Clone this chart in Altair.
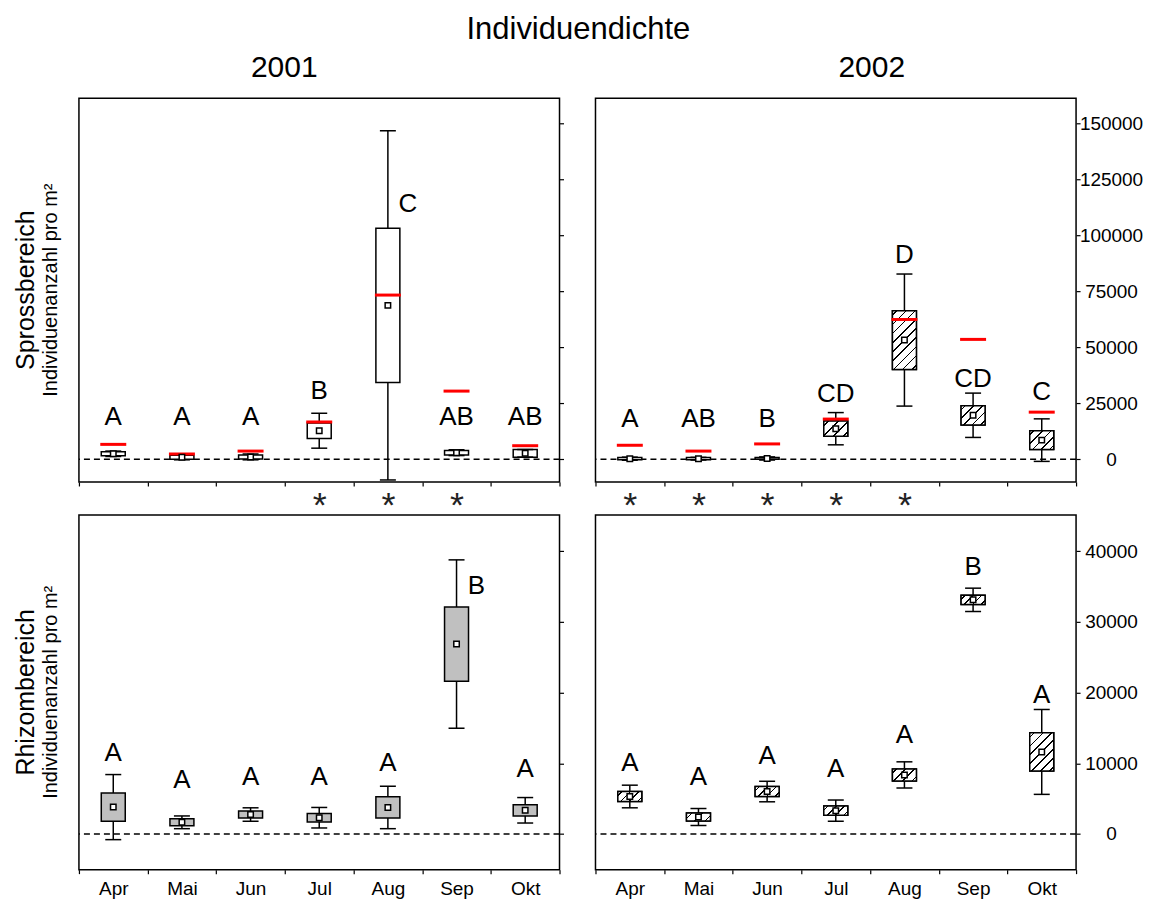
import json
import math
import altair as alt
import pandas as pd

# ---------------- data ----------------
months = ["Apr", "Mai", "Jun", "Jul", "Aug", "Sep", "Okt"]

# Sprossbereich 2001
s01_mean = [2500, 900, 1100, 12800, 68800, 3000, 2700]
s01_se = [900, 900, 900, 3450, 34500, 1000, 1700]
s01_sd = [1200, 1100, 1300, 7800, 78000, 1300, 1700]
s01_red = [6700, 2400, 3700, 16700, 73400, 30500, 6100]
s01_letters = ["A", "A", "A", "B", "C", "AB", "AB"]
s01_letter_y = [19000, 19000, 19000, 30400, 114300, 19000, 19000]
s01_letter_side = [0, 0, 0, 0, 1, 0, 0]
s01_stars = ["Jul", "Aug", "Sep"]

# Sprossbereich 2002
s02_mean = [300, 300, 400, 13700, 53300, 19700, 8600]
s02_se = [500, 500, 400, 3400, 13100, 4300, 4200]
s02_sd = [700, 600, 700, 7200, 29500, 9900, 9500]
s02_red = [6300, 3700, 6900, 18000, 62500, 53600, 21100]
s02_letters = ["A", "AB", "B", "CD", "D", "CD", "C"]
s02_letter_y = [18000, 18000, 18000, 29000, 91200, 36100, 30200]
s02_letter_side = [0, 0, 0, 0, 0, 0, 0]
s02_stars = ["Apr", "Mai", "Jun", "Jul", "Aug"]

# Rhizombereich 2001
r01_mean = [3800, 1650, 2750, 2300, 3750, 26850, 3350]
r01_se = [2000, 500, 500, 600, 1500, 5250, 800]
r01_sd = [4600, 900, 950, 1450, 3000, 11900, 1800]
r01_letters = ["A", "A", "A", "A", "A", "B", "A"]
r01_letter_y = [11500, 7600, 8100, 8100, 10000, 35100, 9200]
r01_letter_side = [0, 0, 0, 0, 0, 1, 0]

# Rhizombereich 2002
r02_mean = [5300, 2400, 6000, 3300, 8350, 33100, 11600]
r02_se = [700, 550, 700, 650, 850, 650, 2700]
r02_sd = [1600, 1200, 1450, 1500, 1850, 1650, 6000]
r02_letters = ["A", "A", "A", "A", "A", "B", "A"]
r02_letter_y = [10000, 8100, 11000, 9150, 14000, 37700, 19700]
r02_letter_side = [0, 0, 0, 0, 0, 0, 0]

top_ticks = [0, 25000, 50000, 75000, 100000, 125000, 150000]
bot_ticks = [0, 10000, 20000, 30000, 40000]
top_domain = [-10100, 161300]
bot_domain = [-5040, 45100]

# ---------------- styling ----------------
FONT = "Liberation Sans"
W = 481
H_TOP = 384
H_BOT = 355
BOX_W = 24
CAP_W = 16


def hatch_gradient(h, w=BOX_W, spacing=6.5, lw=1.2):
    r = h / w
    a = (1 + r) / (1 + r * r)
    b = a * r
    L = (w + h) / math.sqrt(2)
    n = max(1, int(round(L / spacing)))
    d = (lw / 2) / L
    stops = [alt.GradientStop(offset=0, color="white")]
    for k in range(n):
        t = (k + 0.5) / n
        stops += [
            alt.GradientStop(offset=max(0, t - d), color="white"),
            alt.GradientStop(offset=max(0, t - d), color="black"),
            alt.GradientStop(offset=min(1, t + d), color="black"),
            alt.GradientStop(offset=min(1, t + d), color="white"),
        ]
    stops.append(alt.GradientStop(offset=1, color="white"))
    return alt.LinearGradient(gradient="linear", stops=stops, x1=0, y1=0, x2=a, y2=b)


def panel(mean, se, sd, letters, letter_y, letter_side, red, fill, hatched,
          domain, ticks, height, y_labels, bottom_row, stars, title, title_dx, row_label):
    df = pd.DataFrame({
        "month": months,
        "mean": mean,
        "se_lo": [m - s for m, s in zip(mean, se)],
        "se_hi": [m + s for m, s in zip(mean, se)],
        "sd_lo": [m - s for m, s in zip(mean, sd)],
        "sd_hi": [m + s for m, s in zip(mean, sd)],
        "letter": letters,
        "letter_y": letter_y,
        "side": letter_side,
    })
    if red is not None:
        df["red"] = red
    base = alt.Chart(df)

    yscale = alt.Scale(domain=domain, nice=False, zero=False)
    yaxis = alt.Axis(orient="right", values=ticks, title=None, grid=False,
                     domain=False, ticks=True, tickSize=4, tickWidth=1.2,
                     tickColor="black", labels=y_labels, labelAlign="center",
                     labelPadding=31, labelFontSize=19, labelColor="black",
                     format="d")

    def Y(f):
        return alt.Y(f"{f}:Q", scale=yscale, axis=yaxis)

    if bottom_row:
        xaxis = alt.Axis(title=None, tickBand="extent", tickSize=4,
                         tickColor="black", tickWidth=1.2, domain=False,
                         labelAngle=0, labelFontSize=19, labelPadding=6,
                         labelColor="black")
    else:
        expr = "indexof(" + json.dumps(stars) + ", datum.value) >= 0 ? '*' : ''"
        xaxis = alt.Axis(title=None, tickBand="extent", tickSize=4,
                         tickColor="black", tickWidth=1.2, domain=False,
                         labelAngle=0, labelExpr=expr, labelFontSize=36,
                         labelPadding=3, labelColor="#222222")
    X = alt.X("month:N", scale=alt.Scale(domain=months, paddingInner=0, paddingOuter=0),
              axis=xaxis)

    layers = []
    zero = alt.Chart(pd.DataFrame({"z": [0]})).mark_rule(
        color="black", strokeDash=[6, 4], strokeWidth=1.5).encode(y=Y("z"))
    layers.append(zero)
    layers.append(base.mark_rule(color="black", strokeWidth=1.5).encode(
        x=X, y=Y("sd_lo"), y2="sd_hi:Q"))
    layers.append(base.mark_bar(width=BOX_W, fill=fill, stroke="black", strokeWidth=1.5,
                                opacity=1).encode(x=X, y=Y("se_lo"), y2="se_hi:Q"))
    if hatched:
        px = height / (domain[1] - domain[0])
        for i, mth in enumerate(months):
            h = 2 * se[i] * px
            if h >= 4:
                layers.append(
                    base.transform_filter(alt.datum.month == mth)
                    .mark_bar(width=BOX_W, fill=hatch_gradient(h), stroke="black",
                              strokeWidth=1.5, opacity=1)
                    .encode(x=X, y=Y("se_lo"), y2="se_hi:Q"))
    layers.append(base.mark_tick(size=CAP_W, thickness=1.5, color="black", opacity=1)
                  .encode(x=X, y=Y("sd_lo")))
    layers.append(base.mark_tick(size=CAP_W, thickness=1.5, color="black", opacity=1)
                  .encode(x=X, y=Y("sd_hi")))
    if red is not None:
        layers.append(base.mark_tick(size=26, thickness=3, color="#ff0000", opacity=1)
                      .encode(x=X, y=Y("red")))
    layers.append(base.mark_square(size=30, fill="white", stroke="black", strokeWidth=1.5,
                                   opacity=1).encode(x=X, y=Y("mean")))
    layers.append(base.transform_filter("datum.side == 0")
                  .mark_text(fontSize=26, baseline="middle", align="center", color="black")
                  .encode(x=X, y=Y("letter_y"), text="letter:N"))
    layers.append(base.transform_filter("datum.side == 1")
                  .mark_text(fontSize=26, baseline="middle", align="center", dx=20,
                             color="black")
                  .encode(x=X, y=Y("letter_y"), text="letter:N"))
    if row_label is not None:
        layers.append(alt.Chart(pd.DataFrame({"t": [row_label]}))
                      .mark_text(angle=270, fontSize=25, baseline="middle", align="center",
                                 color="black")
                      .encode(text="t:N", x=alt.value(-53), y=alt.value(height / 2)))
        layers.append(alt.Chart(pd.DataFrame({"t": ["Individuenanzahl pro m²"]}))
                      .mark_text(angle=270, fontSize=20, baseline="middle", align="center",
                                 color="black")
                      .encode(text="t:N", x=alt.value(-28), y=alt.value(height / 2)))

    props = dict(width=W, height=height)
    if title is not None:
        props["title"] = alt.Title(title, fontSize=30, font=FONT, fontWeight="normal",
                                   anchor="middle", offset=15, dx=title_dx, color="black")
    return alt.layer(*layers).properties(**props)


tl = panel(s01_mean, s01_se, s01_sd, s01_letters, s01_letter_y, s01_letter_side, s01_red,
           "white", False, top_domain, top_ticks, H_TOP, False, False, s01_stars,
           "2001", -35, "Sprossbereich")
tr = panel(s02_mean, s02_se, s02_sd, s02_letters, s02_letter_y, s02_letter_side, s02_red,
           "white", True, top_domain, top_ticks, H_TOP, True, False, s02_stars,
           "2002", 36, None)
bl = panel(r01_mean, r01_se, r01_sd, r01_letters, r01_letter_y, r01_letter_side, None,
           "#c0c0c0", False, bot_domain, bot_ticks, H_BOT, False, True, [],
           None, 0, "Rhizombereich")
br = panel(r02_mean, r02_se, r02_sd, r02_letters, r02_letter_y, r02_letter_side, None,
           "white", True, bot_domain, bot_ticks, H_BOT, True, True, [],
           None, 0, None)

chart = alt.concat(
    tl, tr, bl, br, columns=2,
    spacing=alt.RowColnumber(row=33, column=36), bounds="flush",
    title=alt.Title("Individuendichte", fontSize=31, font=FONT, fontWeight="normal",
                    anchor="middle", offset=7, color="black"),
).configure_view(
    stroke="black", strokeWidth=1.5
).configure_axis(
    labelFont=FONT, titleFont=FONT
).configure_text(
    font=FONT
).configure_title(
    font=FONT, fontWeight="normal", color="black"
)

chart.save("out.html", embed_options={"renderer": "svg", "actions": False})
